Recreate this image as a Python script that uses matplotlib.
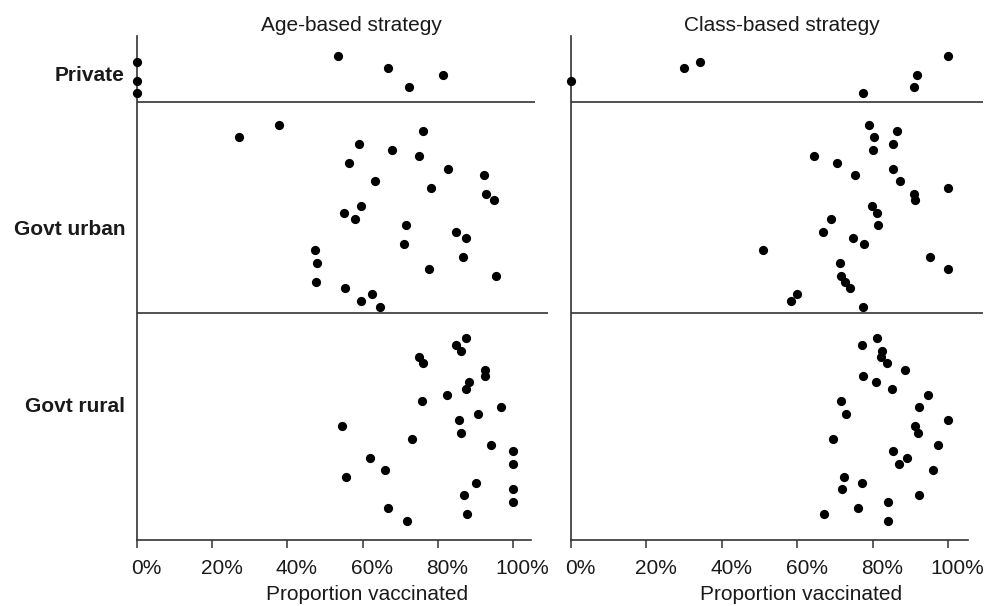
import matplotlib
matplotlib.use('Agg')
import matplotlib.pyplot as plt
from matplotlib.transforms import ScaledTranslation

plt.rcParams['font.family'] = ['Liberation Sans', 'DejaVu Sans']

# ---------------- data (percent vaccinated, one value per school row) -------------
panel_titles = ["Age-based strategy", "Class-based strategy"]
group_names = ["Private", "Govt urban", "Govt rural"]
group_first_row = [0, 11, 45]
separator_rows = [7.37, 40.97]

tick_values = [0, 20, 40, 60, 80, 100]
tick_labels = ["0%", "20%", "40%", "60%", "80%", "100%"]
x_label = "Proportion vaccinated"

age_private = [53.5, 0, 66.7, 81.3, 0, 72.4, 0]
age_urban = [37.8, 76.0, 27.2, 59.1, 67.8, 75.1, 56.3, 82.8, 92.4, 63.2,
             78.2, 92.8, 95.0, 59.6, 55.1, 58.0, 71.5, 84.8, 87.5, 71.0,
             47.3, 86.6, 47.8, 77.7, 95.4, 47.6, 55.4, 62.6, 59.5, 64.6]
age_rural = [87.5, 84.8, 86.1, 75.1, 76.1, 92.6, 92.6, 88.3, 87.5, 82.4,
             75.7, 96.8, 90.6, 85.7, 54.4, 86.1, 73.1, 94.1, 100.0, 62.0,
             100.0, 65.9, 55.6, 90.1, 100.0, 87.0, 100.0, 66.7, 87.8, 71.7]

class_private = [100.0, 34.2, 30.0, 91.9, 0, 91.0, 77.4]
class_urban = [79.0, 86.6, 80.4, 85.3, 80.2, 64.5, 70.5, 85.5, 75.2, 87.3,
               100.0, 91.0, 91.2, 79.9, 81.1, 68.9, 81.4, 66.8, 74.9, 77.7,
               51.0, 95.2, 71.4, 100.0, 71.6, 72.7, 74.1, 60.0, 58.3, 77.4]
class_rural = [81.1, 77.3, 82.6, 82.2, 83.9, 88.6, 77.4, 80.9, 85.1, 94.8,
               71.7, 92.3, 72.9, 100.0, 91.2, 92.1, 69.5, 97.3, 85.3, 89.0,
               87.1, 96.1, 72.4, 77.1, 72.0, 92.3, 84.2, 76.2, 67.2, 84.0]

panels = [[age_private, age_urban, age_rural],
          [class_private, class_urban, class_rural]]

# ---------------- layout -------------
W, H = 989, 606
LINE = '#333333'
TEXT = '#1a1a1a'
FS = 15


def fx(px):
    return px / W


def fy(py):
    return 1 - py / H


fig = plt.figure(figsize=(W / 100, H / 100), dpi=100)

axes_px = [(137, 531), (571, 968)]
xmax = [104.8, 105.3]
sep_ends = [[105.9, 109.3], [109.3, 109.3]]
title_x = [351, 782]
xlabel_x = [367, 801]
top_px, bot_px = 36, 540

for i, (x0, x1) in enumerate(axes_px):
    ax = fig.add_axes([fx(x0), fy(bot_px), (x1 - x0) / W, (bot_px - top_px) / H])
    ax.set_xlim(0, xmax[i])
    ax.set_ylim(77.1, -3.14)
    for s in ['top', 'right']:
        ax.spines[s].set_visible(False)
    for s in ['left', 'bottom']:
        ax.spines[s].set_color(LINE)
        ax.spines[s].set_linewidth(1.2)
    ax.set_yticks([])
    ax.set_xticks(tick_values)
    ax.set_xticklabels(tick_labels)
    ax.tick_params(axis='x', direction='out', length=5.8, width=1.1, color=LINE,
                   labelsize=FS, labelcolor=TEXT, pad=8)
    for lab in ax.get_xticklabels():
        lab.set_transform(lab.get_transform() +
                          ScaledTranslation(9.5 / 100, 0, fig.dpi_scale_trans))

    for g, vals in enumerate(panels[i]):
        rows = [group_first_row[g] + k for k in range(len(vals))]
        ax.scatter(vals, rows, s=44, c='black', linewidths=0, zorder=3, clip_on=False)

    for j, r in enumerate(separator_rows):
        ax.plot([0, sep_ends[i][j]], [r, r], color=LINE, lw=1.2, clip_on=False,
                solid_capstyle='butt')

    fig.text(fx(title_x[i]), fy(31), panel_titles[i], ha='center', va='baseline',
             fontsize=FS, color=TEXT)
    fig.text(fx(xlabel_x[i]), fy(600), x_label, ha='center', va='baseline',
             fontsize=FS, color=TEXT)

label_baselines = [80.6, 235, 411.7]
for name, b in zip(group_names, label_baselines):
    fig.text(fx(125), fy(b), name, ha='right', va='baseline', fontsize=FS,
             fontweight='bold', color=TEXT)

fig.savefig('out.png', dpi=100)
